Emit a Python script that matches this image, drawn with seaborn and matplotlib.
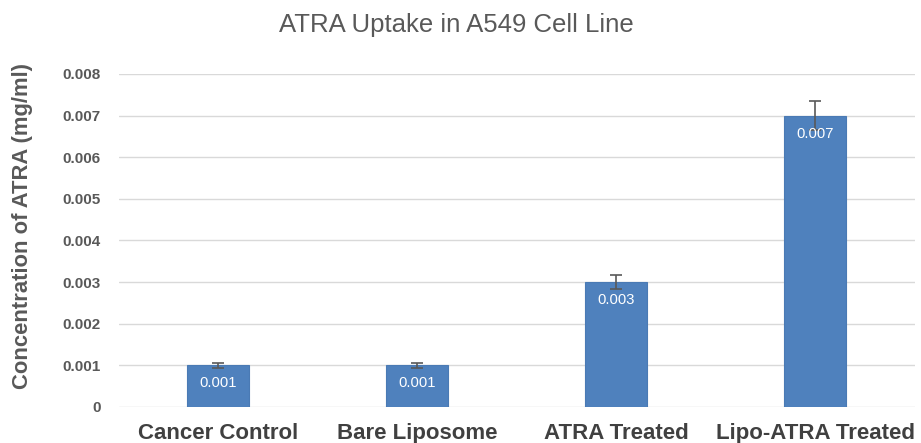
import matplotlib
matplotlib.use("Agg")
import matplotlib.pyplot as plt
import seaborn as sns
import pandas as pd

categories = ["Cancer Control", "Bare Liposome", "ATRA Treated", "Lipo-ATRA Treated"]
values = [0.001, 0.001, 0.003, 0.007]
errors = [0.00006, 0.00006, 0.00016, 0.00035]
value_labels = ["0.001", "0.001", "0.003", "0.007"]
yticks = [0, 0.001, 0.002, 0.003, 0.004, 0.005, 0.006, 0.007, 0.008]
ytick_labels = ["0", "0.001", "0.002", "0.003", "0.004", "0.005", "0.006", "0.007", "0.008"]

sns.set_theme(style="white")
plt.rcParams["font.family"] = ["Liberation Sans", "DejaVu Sans"]

df = pd.DataFrame({"cat": categories, "val": values})

fig = plt.figure(figsize=(9.21, 4.43), dpi=100)
ax = fig.add_axes([0.1287, 0.0813, 0.8643, 0.7517])

ax.set_axisbelow(True)
ax.grid(axis="y", color="#d9d9d9", linewidth=1)
sns.barplot(data=df, x="cat", y="val", color="#4f81bd", width=0.31,
            saturation=1, edgecolor="#4a7ab4", linewidth=0.8, ax=ax, zorder=2)

ax.errorbar(range(len(categories)), values, yerr=errors, fmt="none",
            ecolor="#595959", elinewidth=1.2, capsize=4, capthick=1.2, zorder=3)

for i, (v, lab) in enumerate(zip(values, value_labels)):
    ax.annotate(lab, xy=(i, v), xytext=(0, -18), textcoords="offset pixels",
                ha="center", va="center", color="white", fontsize=10.6, zorder=4)

ax.set_ylim(0, 0.008)
ax.set_xlim(-0.5, len(categories) - 0.5)
ax.set_yticks(yticks)
ax.set_yticklabels(ytick_labels, fontsize=11, fontweight="bold", color="#595959")
ax.tick_params(axis="y", length=0, pad=13)
ax.tick_params(axis="x", length=0, pad=11.5)
for t in ax.get_xticklabels():
    t.set_fontsize(16)
    t.set_fontweight("bold")
    t.set_color("#404040")
ax.set_xlabel("")
ax.set_ylabel("Concentration of ATRA (mg/ml)", fontsize=15.8, fontweight="bold", color="#595959")
ax.yaxis.set_label_coords(-0.108, 0.543)
for s in ax.spines.values():
    s.set_visible(False)

fig.text(0.496, 0.928, "ATRA Uptake in A549 Cell Line", ha="center", va="baseline",
         fontsize=18.5, color="#595959")

fig.savefig("out.png", dpi=100, facecolor="white")
